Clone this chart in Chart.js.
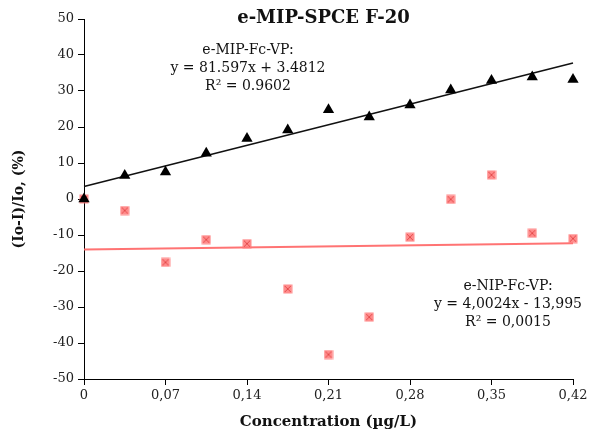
<!DOCTYPE html>
<html>
<head>
<meta charset="utf-8">
<script src="https://cdn.jsdelivr.net/npm/chart.js@4.4.1/dist/chart.umd.min.js"></script>
<style>
  html, body { margin: 0; padding: 0; background: #fff; }
  #wrap { width: 593px; height: 436px; }
</style>
</head>
<body>
<div id="wrap"><canvas id="chart"></canvas></div>
<script>
// concentrations (µg/L)
const conc = [0, 0.035, 0.07, 0.105, 0.14, 0.175, 0.21, 0.245, 0.28, 0.315, 0.35, 0.385, 0.42];
// (Io-I)/Io, %
const mipValues = [0, 6.5, 7.5, 12.7, 16.8, 19.2, 24.8, 22.8, 26.1, 30.3, 32.9, 33.9, 33.2];
const nipValues = [0, -3.2, -17.6, -11.3, -12.4, -25.0, -43.2, -32.8, -10.6, -0.1, 6.7, -9.5, -11.0];
// trend line end points
const trendX = [0, 0.42];
const mipTrend = [3.5, 37.8];
const nipTrend = [-14.0, -12.3];

const xTicks = [0, 0.07, 0.14, 0.21, 0.28, 0.35, 0.42];
const xTickLabels = ['0', '0,07', '0,14', '0,21', '0,28', '0,35', '0,42'];
const yTicks = [-50, -40, -30, -20, -10, 0, 10, 20, 30, 40, 50];

const mipLabel = ['e-MIP-Fc-VP:', 'y = 81.597x + 3.4812', 'R² = 0.9602'];
const nipLabel = ['e-NIP-Fc-VP:', 'y = 4,0024x - 13,995', 'R² = 0,0015'];

const serif = '"DejaVu Serif", "Liberation Serif", serif';
Chart.defaults.font.family = serif;
Chart.defaults.color = '#222';

// square with a cross, like the pink markers
function squareMarker() {
    const c = document.createElement('canvas');
    c.width = 10; c.height = 10;
    const g = c.getContext('2d');
    g.fillStyle = 'rgba(255, 120, 120, 0.85)';
    g.fillRect(0.5, 0.5, 9, 9);
    g.strokeStyle = 'rgba(225, 70, 70, 0.9)';
    g.lineWidth = 1;
    g.beginPath();
    g.moveTo(2, 2); g.lineTo(8, 8);
    g.moveTo(8, 2); g.lineTo(2, 8);
    g.stroke();
    return c;
}

const toXY = (xs, ys) => xs.map((x, i) => ({ x: x, y: ys[i] }));

const textPlugin = {
    id: 'texts',
    afterDraw(chart) {
        const ctx = chart.ctx;
        const area = chart.chartArea;
        ctx.save();
        ctx.fillStyle = '#111';
        ctx.textAlign = 'center';
        ctx.textBaseline = 'middle';
        ctx.font = 'bold 18px ' + serif;
        ctx.fillText('e-MIP-SPCE F-20', (area.left + area.right) / 2 - 5, 18);
        ctx.font = '14px ' + serif;
        mipLabel.forEach((t, i) => ctx.fillText(t, 248, 50 + i * 18));
        nipLabel.forEach((t, i) => ctx.fillText(t, 508, 286 + i * 18));
        ctx.restore();
    }
};

new Chart(document.getElementById('chart'), {
    type: 'scatter',
    data: {
        datasets: [{
            label: 'e-MIP-Fc-VP',
            data: toXY(conc, mipValues),
            pointStyle: 'triangle',
            pointRadius: 6.5,
            backgroundColor: '#000',
            borderColor: '#000',
            borderWidth: 0,
            clip: false
        }, {
            label: 'e-NIP-Fc-VP',
            data: toXY(conc, nipValues),
            pointStyle: squareMarker(),
            clip: false
        }, {
            type: 'line',
            label: 'MIP trend',
            data: toXY(trendX, mipTrend),
            borderColor: '#111',
            borderWidth: 1.5,
            pointRadius: 0,
            clip: false
        }, {
            type: 'line',
            label: 'NIP trend',
            data: toXY(trendX, nipTrend),
            borderColor: 'rgba(255, 100, 100, 0.9)',
            borderWidth: 2,
            pointRadius: 0,
            clip: false
        }]
    },
    options: {
        responsive: true,
        maintainAspectRatio: false,
        animation: false,
        layout: { padding: { top: 19, right: 20, left: 0, bottom: 0 } },
        plugins: {
            legend: { display: false },
            tooltip: { enabled: false }
        },
        scales: {
            x: {
                type: 'linear',
                min: 0,
                max: 0.42,
                afterBuildTicks: axis => { axis.ticks = xTicks.map(v => ({ value: v })); },
                afterFit: axis => { axis.height = 57; },
                grid: { drawOnChartArea: false, tickLength: 6, color: '#000' },
                border: { color: '#000', width: 1 },
                ticks: {
                    padding: 3,
                    maxRotation: 0,
                    font: { size: 13 },
                    color: '#222',
                    callback: (v, i) => xTickLabels[i]
                },
                title: {
                    display: true,
                    text: 'Concentration (µg/L)',
                    font: { size: 15, weight: 'bold' },
                    color: '#111',
                    padding: { top: 0, bottom: 5 }
                }
            },
            y: {
                min: -50,
                max: 50,
                afterBuildTicks: axis => { axis.ticks = yTicks.map(v => ({ value: v })); },
                afterFit: axis => { axis.width = 84; },
                grid: { drawOnChartArea: false, tickLength: 6, color: '#000' },
                border: { color: '#000', width: 1 },
                ticks: {
                    padding: 4,
                    font: { size: 13 },
                    color: '#222'
                },
                title: {
                    display: true,
                    text: '(Io-I)/Io, (%)',
                    font: { size: 14, weight: 'bold' },
                    color: '#111',
                    padding: { top: 11, bottom: 0 }
                }
            }
        }
    },
    plugins: [textPlugin]
});
</script>
</body>
</html>
